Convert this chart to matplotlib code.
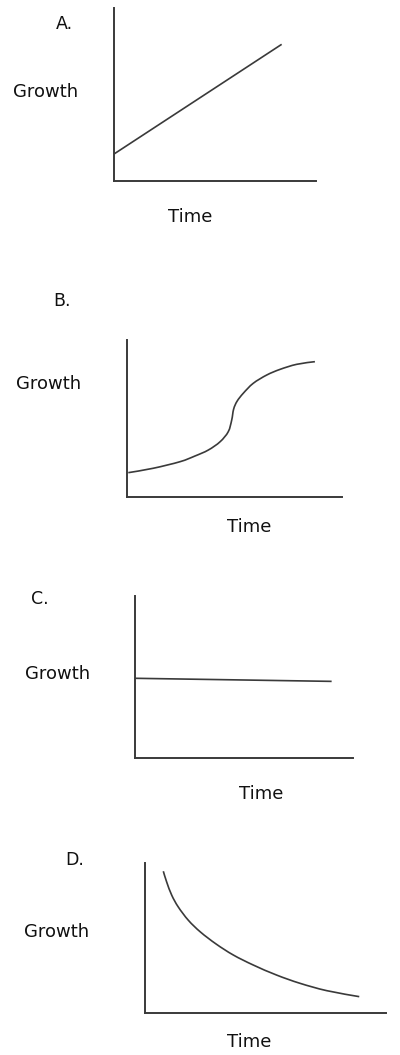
import matplotlib
matplotlib.use("Agg")
import matplotlib.pyplot as plt
from matplotlib.path import Path
from matplotlib.patches import PathPatch

# ---- data (axes run 0..10 in each panel) ----
a_time = [0.0, 8.3]
a_growth = [1.56, 7.9]

b_time = [0.06, 1.22, 2.47, 3.16, 3.78, 4.33, 4.71, 4.87, 4.96, 5.12, 5.41, 5.87, 6.50, 7.12, 7.89, 8.74]
b_growth = [1.55, 1.83, 2.25, 2.61, 2.99, 3.52, 4.16, 4.90, 5.60, 6.10, 6.61, 7.24, 7.77, 8.13, 8.45, 8.62]

c_time = [0.0, 9.02]
c_growth = [4.92, 4.73]

d_time = [0.76, 0.90, 1.11, 1.38, 1.80, 2.30, 2.95, 3.66, 4.49, 5.46, 6.43, 7.54, 8.89]
d_growth = [9.45, 8.73, 7.85, 7.07, 6.18, 5.40, 4.60, 3.87, 3.20, 2.53, 1.98, 1.49, 1.09]

panel_letters = ["A.", "B.", "C.", "D."]
y_label = "Growth"
x_label = "Time"

W, H = 400, 1055
fig = plt.figure(figsize=(W / 100, H / 100), dpi=100)
fig.patch.set_facecolor("white")

LINE = "#3a3a3a"
TEXT = "#111111"
FONT = "DejaVu Sans"

# pixel boxes: left, top, right, bottom of axis lines
boxes = [
    (114, 8, 316, 181),
    (127, 340, 342, 497),
    (135, 596, 353, 758),
    (145, 863, 386, 1013),
]
series = [(a_time, a_growth), (b_time, b_growth), (c_time, c_growth), (d_time, d_growth)]

# text positions (pixel centres)
letter_pos = [(64, 24), (62, 301), (40, 599), (75, 860)]
growth_pos = [(46, 92), (49, 384), (58, 674), (57, 932)]
time_pos = [(190, 217), (249, 527), (261, 794), (249, 1042)]


def fx(px):
    return px / W


def fy(py):
    return 1 - py / H


def smooth_path(xs, ys):
    """Catmull-Rom through the read points, drawn as cubic Bezier segments."""
    pts = list(zip(xs, ys))
    n = len(pts)
    if n < 3:
        return Path(pts, [Path.MOVETO] + [Path.LINETO] * (n - 1))
    verts = [pts[0]]
    codes = [Path.MOVETO]
    for i in range(n - 1):
        p0 = pts[i - 1] if i > 0 else pts[i]
        p1 = pts[i]
        p2 = pts[i + 1]
        p3 = pts[i + 2] if i + 2 < n else pts[i + 1]
        c1 = (p1[0] + (p2[0] - p0[0]) / 6, p1[1] + (p2[1] - p0[1]) / 6)
        c2 = (p2[0] - (p3[0] - p1[0]) / 6, p2[1] - (p3[1] - p1[1]) / 6)
        verts += [c1, c2, p2]
        codes += [Path.CURVE4] * 3
    return Path(verts, codes)


for (l, t, r, b), (xs, ys) in zip(boxes, series):
    ax = fig.add_axes([fx(l), fy(b), (r - l) / W, (b - t) / H])
    ax.set_xlim(0, 10)
    ax.set_ylim(0, 10)
    ax.add_patch(PathPatch(smooth_path(xs, ys), facecolor="none",
                           edgecolor=LINE, lw=1.2, capstyle="butt"))
    for s in ["top", "right"]:
        ax.spines[s].set_visible(False)
    for s in ["left", "bottom"]:
        ax.spines[s].set_color(LINE)
        ax.spines[s].set_linewidth(1.4)
    ax.set_xticks([])
    ax.set_yticks([])
    ax.patch.set_alpha(0)

for (x, y), letter in zip(letter_pos, panel_letters):
    fig.text(fx(x), fy(y), letter, ha="center", va="center", fontsize=12.5,
             color=TEXT, family=FONT)
for (x, y) in growth_pos:
    fig.text(fx(x), fy(y), y_label, ha="center", va="center", fontsize=13,
             color=TEXT, family=FONT)
for (x, y) in time_pos:
    fig.text(fx(x), fy(y), x_label, ha="center", va="center", fontsize=13,
             color=TEXT, family=FONT)

fig.savefig("out.png", dpi=100, facecolor="white")
